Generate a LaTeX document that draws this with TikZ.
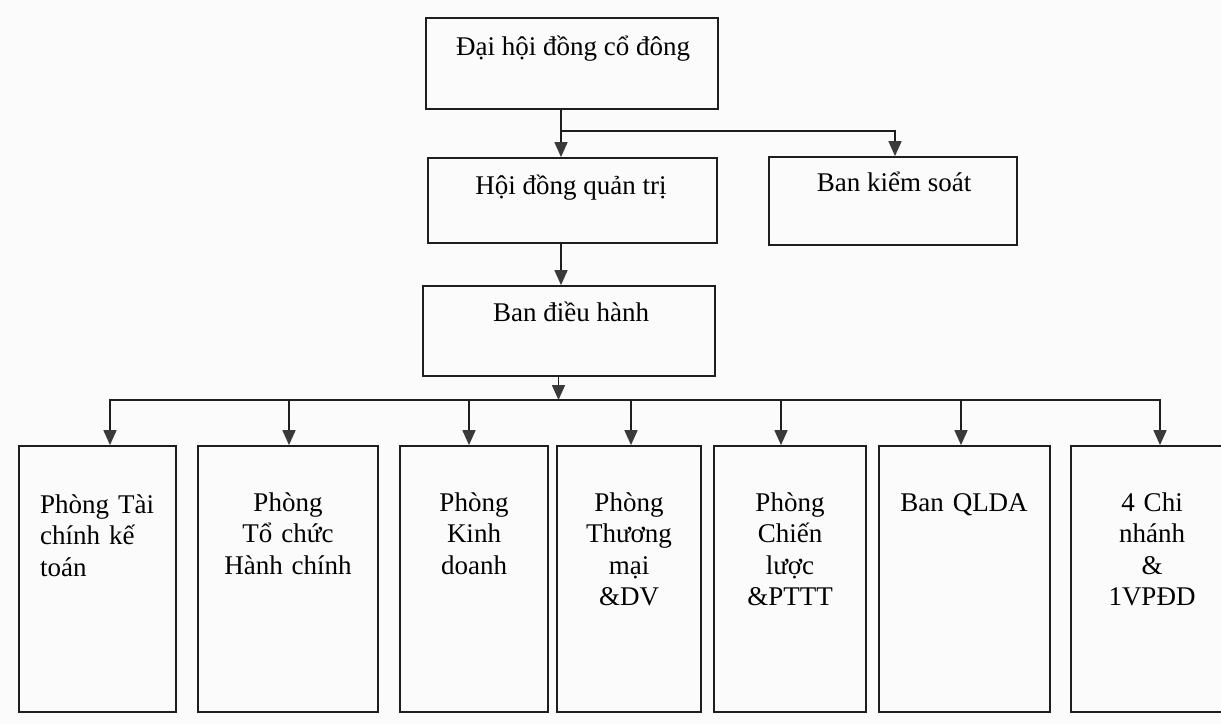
\documentclass[tikz,border=0pt]{standalone}
\usepackage{fontspec}
\setmainfont{Liberation Serif}
\usetikzlibrary{arrows.meta,fit}
\definecolor{ink}{HTML}{1E1E1E}
\definecolor{tipc}{HTML}{3A3A3A}
\definecolor{paper}{HTML}{FBFBFB}
\begin{document}
\begin{tikzpicture}[x=1pt,y=-1pt,
  box/.style={draw=ink,line width=1.8pt,inner sep=0pt},
  lbl/.style={font=\fontsize{27}{31.5}\selectfont,inner sep=0pt,anchor=base,text=black},
  conn/.style={draw=ink,line width=1.6pt,line cap=rect},
  arr/.style={draw=ink,line width=1.6pt,-{Triangle[width=13pt,length=15pt,color=tipc]}},
]
\useasboundingbox (0,0) rectangle (1221,724);
\fill[paper] (0,0) rectangle (1221,724);
\clip (0,0) rectangle (1221,724);

% upper levels
\node[box,fit={(426,18) (718,109)}] (a) {};
\node[lbl] (ta) at (573,55) {Đại hội đồng cổ đông};
\node[box,fit={(428,158) (717,243)}] (b) {};
\node[lbl] (tb) at (571,194) {Hội đồng quản trị};
\node[box,fit={(769,157) (1017,245)}] (c) {};
\node[lbl] (tc) at (894,191) {Ban kiểm soát};
\node[box,fit={(423,286) (715,376)}] (d) {};
\node[lbl] (td) at (571,321) {Ban điều hành};

% departments
\node[box,fit={(19,446) (176,712)}] (p1) {};
\node[box,fit={(198,446) (378,712)}] (p2) {};
\node[box,fit={(400,446) (548,712)}] (p3) {};
\node[box,fit={(557,446) (701,712)}] (p4) {};
\node[box,fit={(714,446) (866,712)}] (p5) {};
\node[box,fit={(879,446) (1050,712)}] (p6) {};
\node[box,fit={(1071,446) (1233,712)}] (p7) {};

\node[lbl,anchor=base west,text width=135pt,align=left] (t1) at (40,513) {Phòng Tài\\chính kế\\toán};
\node[lbl,text width=170pt,align=center] (t2) at (288,511) {Phòng\\Tổ chức\\Hành chính};
\node[lbl,text width=140pt,align=center] (t3) at (474,511) {Phòng\\Kinh\\doanh};
\node[lbl,text width=135pt,align=center] (t4) at (629,511) {Phòng\\Thương\\mại\\\&DV};
\node[lbl,text width=140pt,align=center] (t5) at (790,511) {Phòng\\Chiến\\lược\\\&PTTT};
\node[lbl,text width=160pt,align=center] (t6) at (964,511) {Ban QLDA};
\node[lbl,text width=150pt,align=center] (t7) at (1152,511) {4 Chi\\nhánh\\\&\\1VPĐD};

% connectors
\coordinate (j) at (561,131);
\coordinate (jk) at (895,131);
\draw[arr] (a.south -| j) -- (b.north -| j);
\draw[arr] (j) -- (jk) -- (jk |- c.north);
\draw[arr] (b.south -| j) -- (d.north -| j);

\coordinate (bus) at (558.5,400);
\draw[arr] (d.south -| bus) -- (bus);
\coordinate (k1) at (110,400);
\coordinate (k2) at (289,400);
\coordinate (k3) at (469,400);
\coordinate (k4) at (631,400);
\coordinate (k5) at (781,400);
\coordinate (k6) at (961,400);
\coordinate (k7) at (1160,400);
\draw[conn] (k1) -- (k7);
\foreach \i in {1,...,7}{
  \draw[arr] (k\i) -- (k\i |- p\i.north);
}
\end{tikzpicture}
\end{document}
